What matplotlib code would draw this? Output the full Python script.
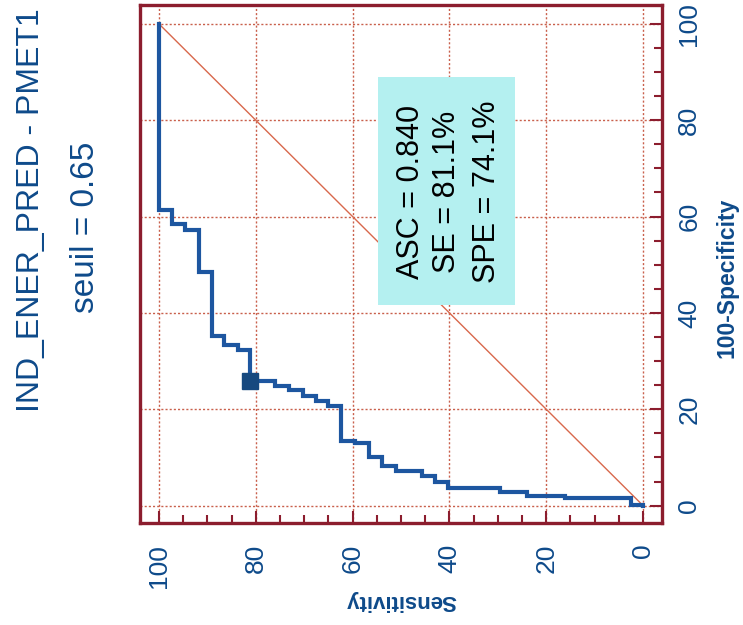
import matplotlib
matplotlib.use('Agg')
import matplotlib.pyplot as plt
from matplotlib.patches import Rectangle
from matplotlib.ticker import MultipleLocator

# ---- data (ROC curve) ----
sensitivity = [100, 100, 97.2, 94.6, 91.7, 89.1, 86.5, 83.7, 81.1, 76.0, 73.1, 70.2,
               67.6, 65.0, 62.3, 59.5, 56.6, 54.0, 51.0, 45.7, 43.0, 40.2, 29.5,
               24.0, 16.1, 2.5, 0]
false_pos = [100, 61.3, 58.4, 57.3, 48.4, 35.3, 33.3, 32.2, 25.9, 24.8, 23.9, 22.8,
             21.8, 20.6, 13.5, 13.0, 10.2, 8.3, 7.1, 6.1, 4.9, 3.6, 2.8,
             2.1, 1.5, 0.1, 0]
cut_sens = 81.1
cut_fp = 25.9
auc = 0.840
se = 81.1
spe = 74.1
title = 'IND_ENER_PRED - PMET1'
threshold = 0.65
tick_values = [0, 20, 40, 60, 80, 100]

NARROW = ['Liberation Sans Narrow', 'Liberation Sans', 'DejaVu Sans']
ARIAL = ['Liberation Sans', 'DejaVu Sans']
plt.rcParams['font.family'] = ARIAL

W, H = 743, 625
fig = plt.figure(figsize=(W / 100, H / 100), dpi=100)
fig.patch.set_facecolor('white')

def px(x, y):
    return x / W, 1 - y / H

L, R, T, B = 140, 662, 5, 523
ax = fig.add_axes([L / W, 1 - B / H, (R - L) / W, (B - T) / H])

spine_c = '#8c1d2e'
grid_c = '#c9604c'
blue_txt = '#0e4a8a'

ax.set_xlim(103.9, -3.9)
ax.set_ylim(-3.6, 103.9)

# grid
for v in tick_values:
    ax.axvline(v, color=grid_c, lw=1.0, ls=(0, (1.5, 1.5)), zorder=1)
    ax.axhline(v, color=grid_c, lw=1.0, ls=(0, (1.5, 1.5)), zorder=1)

# diagonal
ax.plot([100, 0], [100, 0], color='#d8684c', lw=1.0, zorder=2)

# annotation box
ax.add_patch(Rectangle((54.8, 41.7), 26.4 - 54.8, 89.0 - 41.7,
                       facecolor='#b4f0f0', edgecolor='none', zorder=3))

# ROC curve
ax.plot(sensitivity, false_pos, drawstyle='steps-post', color='#1d56a0',
        lw=3.0, zorder=4, solid_joinstyle='miter')
ax.plot([cut_sens], [cut_fp], marker='s', ms=12, color='#17497f', zorder=5)

# spines / ticks
for s in ax.spines.values():
    s.set_color(spine_c)
    s.set_linewidth(2.4)
ax.set_xticks(tick_values)
ax.set_yticks(tick_values)
ax.xaxis.set_minor_locator(MultipleLocator(5))
ax.yaxis.set_minor_locator(MultipleLocator(5))
ax.yaxis.tick_right()
ax.tick_params(axis='both', which='both', direction='in', color=spine_c, width=1.5)
ax.tick_params(axis='both', which='major', length=9)
ax.tick_params(axis='both', which='minor', length=6)
ax.tick_params(axis='x', which='major', labelrotation=90, pad=15, labelcolor=blue_txt)
ax.tick_params(axis='y', which='major', labelrotation=90, pad=11, labelcolor=blue_txt)
ax.tick_params(left=False, top=False, which='both')
for lab in list(ax.get_xticklabels()) + list(ax.get_yticklabels()):
    lab.set_fontfamily(NARROW)
    lab.set_fontsize(19)
for lab in ax.get_yticklabels():
    lab.set_va('center')

# axis labels
ax.set_xlabel('Sensitivity', rotation=180, fontsize=16, color=blue_txt, fontweight='bold')
ax.xaxis.label.set_va('center')
ax.xaxis.set_label_coords(0.5, (B - 600) / (B - T))
ax.yaxis.set_label_position('right')
ax.set_ylabel('100-Specificity', rotation=90, fontsize=16.5, color=blue_txt, fontweight='bold',
              fontfamily=NARROW)
ax.yaxis.label.set_va('center')
ax.yaxis.label.set_ha('center')
ax.yaxis.set_label_coords((727 - L) / (R - L), (B - 278) / (B - T))

# titles (rotated)
fig.text(*px(31, 210), title, rotation=90, ha='center', va='center',
         fontsize=23, color=blue_txt, fontfamily=NARROW)
fig.text(*px(86, 227), f'seuil = {threshold:.2f}', rotation=90, ha='center', va='center',
         fontsize=24, color=blue_txt, fontfamily=NARROW)

# annotation text
lines = [f'ASC = {auc:.3f}', f'SE = {se:.1f}%', f'SPE = {spe:.1f}%']
for xc, t in zip([411, 447, 487], lines):
    fig.text(*px(xc, 192), t, rotation=90, ha='center', va='center',
             fontsize=22, color='black')

fig.savefig('out.png', dpi=100)
